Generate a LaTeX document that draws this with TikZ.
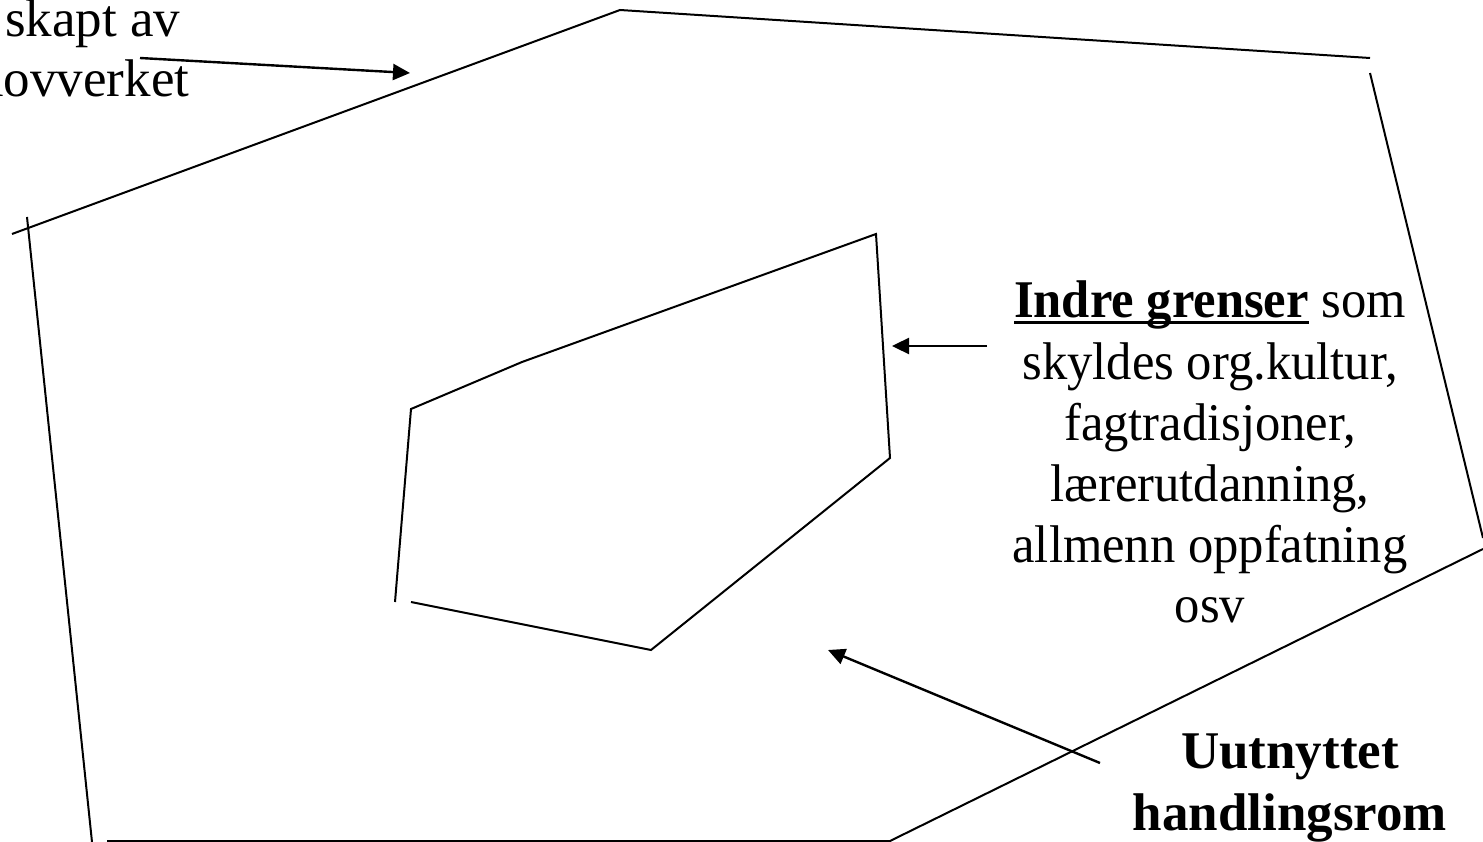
\documentclass[tikz,border=0pt]{standalone}
\usepackage{fontspec}
\setmainfont{Liberation Serif}
\newfontfamily\condfont{Liberation Serif}[FakeStretch=0.955]
\usetikzlibrary{arrows.meta}
\newcommand\myul[1]{\setbox0\hbox{#1}\rlap{\rule[-6pt]{\wd0}{3pt}}\box0\relax}
\tikzset{
  edge/.style={line width=2pt, line cap=butt},
  arr/.style={line width=2.4pt, -{Triangle[length=17pt,width=16pt]}},
  lbl/.style={inner sep=0pt, anchor=base, font=\fontsize{53}{61}\selectfont},
  rlbl/.style={lbl, font=\fontsize{53}{61}\condfont},
}
\begin{document}
\begin{tikzpicture}[x=1pt,y=-1pt]
\useasboundingbox (0,0) rectangle (1483,842);
% outer boundary
\coordinate (o1) at (12,234);
\coordinate (o2) at (620,10);
\coordinate (o3) at (1370,58);
\coordinate (o4) at (1370,73);
\coordinate (o5) at (1483,538);
\coordinate (o6) at (1483,549);
\coordinate (o7) at (890,841);
\coordinate (o8) at (107,841);
\coordinate (o9) at (92,842);
\coordinate (o10) at (27,217);
\draw[edge] (o1) -- (o2) -- (o3);
\draw[edge] (o4) -- (o5);
\draw[edge] (o6) -- (o7) -- (o8);
\draw[edge] (o9) -- (o10);
% inner boundary
\coordinate (i1) at (395,602);
\coordinate (i2) at (411,409);
\coordinate (i3) at (522,362);
\coordinate (i4) at (876,234);
\coordinate (i5) at (890,458);
\coordinate (i6) at (651,650);
\coordinate (i7) at (411,602);
\draw[edge] (i1) -- (i2) -- (i3) -- (i4) -- (i5) -- (i6) -- (i7);
% texts
\node[lbl, anchor=base west] (s1) at (5,37) {skapt av};
\node[lbl, anchor=base west] (s2) at (-11,97) {lovverket};
\node[rlbl] (r1) at (1210,318) {\myul{\textbf{Indre grenser}} som};
\node[rlbl] (r2) at (1210,379) {skyldes org.kultur,};
\node[rlbl] (r3) at (1210,440) {fagtradisjoner,};
\node[rlbl] (r4) at (1210,501) {lærerutdanning,};
\node[rlbl] (r5) at (1210,562) {allmenn oppfatning};
\node[rlbl] (r6) at (1210,622) {osv};
\node[lbl, font=\fontsize{53}{61}\selectfont\bfseries] (u1) at (1290,768) {Uutnyttet};
\node[lbl, font=\fontsize{53}{61}\selectfont\bfseries] (u2) at (1290,830) {handlingsrom};
% arrows
\coordinate (a1s) at (140,58);
\coordinate (a1e) at (410,73);
\coordinate (a2s) at (987,346);
\coordinate (a2e) at (892,346);
\coordinate (a3s) at (1100,763);
\coordinate (a3e) at (828,650);
\draw[arr] (a1s) -- (a1e);
\draw[arr] (a2s) -- (a2e);
\draw[arr] (a3s) -- (a3e);
\end{tikzpicture}
\end{document}
